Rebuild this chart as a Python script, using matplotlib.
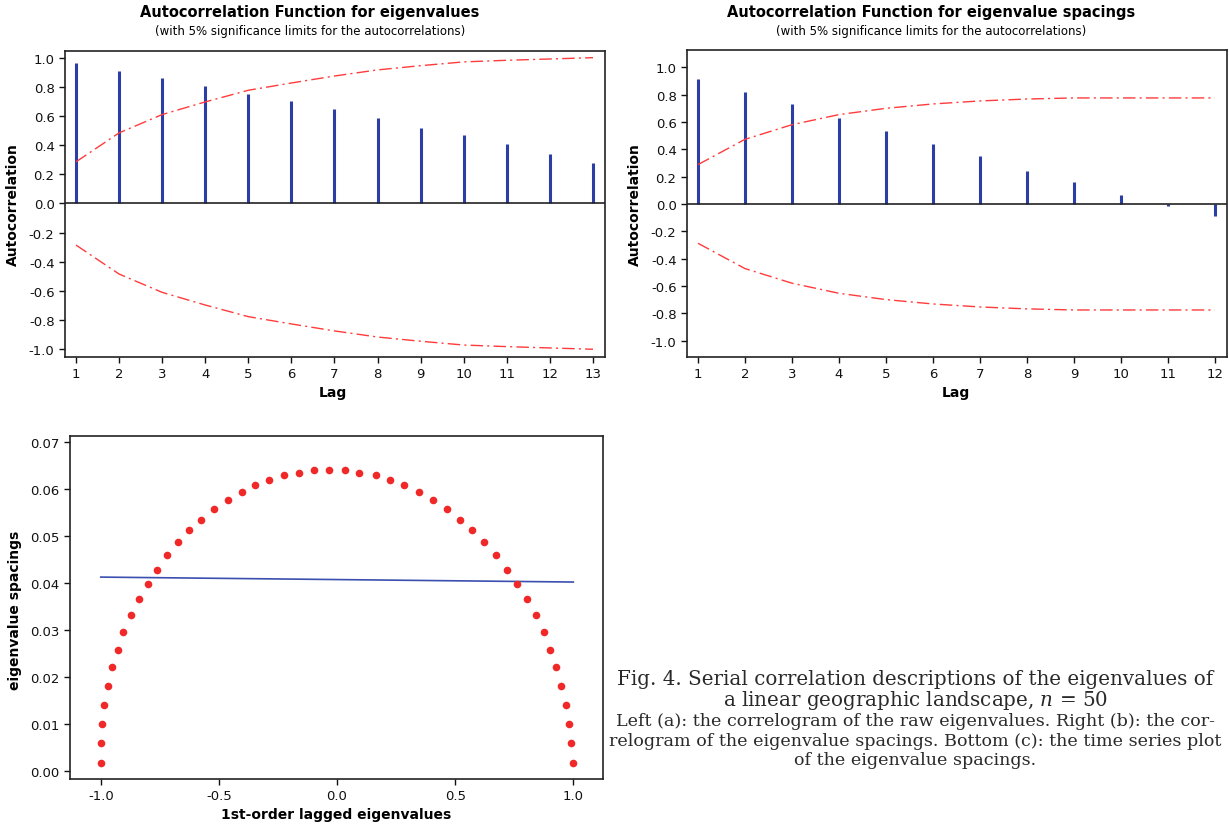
import matplotlib
matplotlib.use("Agg")
import matplotlib.pyplot as plt

plt.rcParams['mathtext.fontset'] = 'dejavuserif'

# --- data ---
lags_a = list(range(1, 14))
acf_a = [0.966, 0.911, 0.863, 0.810, 0.755, 0.703, 0.648, 0.584, 0.522, 0.469, 0.407, 0.343, 0.275]
lim_a = [0.286, 0.485, 0.611, 0.698, 0.778, 0.828, 0.876, 0.918, 0.947, 0.973, 0.984, 0.993, 1.002]

lags_b = list(range(1, 13))
acf_b = [0.912, 0.822, 0.729, 0.632, 0.532, 0.441, 0.351, 0.241, 0.161, 0.068, -0.012, -0.088]
lim_b = [0.288, 0.473, 0.580, 0.654, 0.700, 0.732, 0.754, 0.768, 0.776, 0.776, 0.776, 0.776]

lagged_eig = [-1.000, -0.998, -0.995, -0.987, -0.971, -0.952, -0.929, -0.905, -0.871, -0.839,
              -0.802, -0.763, -0.721, -0.675, -0.626, -0.575, -0.519, -0.461, -0.404, -0.348,
              -0.287, -0.225, -0.159, -0.098, -0.034, 0.034, 0.095, 0.163, 0.224, 0.283,
              0.346, 0.407, 0.464, 0.522, 0.573, 0.623, 0.671, 0.720, 0.760, 0.804,
              0.841, 0.874, 0.903, 0.928, 0.950, 0.969, 0.982, 0.992, 1.000]
spacings = [0.0019, 0.0060, 0.0101, 0.0142, 0.0181, 0.0222, 0.0258, 0.0296, 0.0332, 0.0366,
            0.0397, 0.0428, 0.0460, 0.0486, 0.0513, 0.0534, 0.0556, 0.0576, 0.0593, 0.0607,
            0.0619, 0.0629, 0.0634, 0.0639, 0.0639, 0.0639, 0.0634, 0.0629, 0.0619, 0.0607,
            0.0593, 0.0576, 0.0556, 0.0534, 0.0513, 0.0486, 0.0460, 0.0428, 0.0397, 0.0366,
            0.0332, 0.0296, 0.0258, 0.0222, 0.0181, 0.0142, 0.0101, 0.0060, 0.0019]
fit_x = [-1.0, 1.0]
fit_y = [0.04125, 0.0402]

BLUE = '#2b3ea6'
RED = '#ff3b3b'
dashdot = (0, (9, 3, 1.5, 3))

fig = plt.figure(figsize=(12.29, 8.29), dpi=100)
fig.patch.set_facecolor('white')


def style(ax):
    for s in ax.spines.values():
        s.set_linewidth(1.2)
        s.set_color('#222222')
    ax.tick_params(direction='out', length=4, width=1, labelsize=9.5, colors='#111111')


def acf_panel(rect, lags, acf, lim, ylim, xlim):
    ax = fig.add_axes(rect)
    ax.vlines(lags, 0, acf, color=BLUE, lw=2.2)
    ax.axhline(0, color='#222222', lw=1.2)
    ax.plot(lags, lim, color=RED, lw=1.0, ls=dashdot)
    ax.plot(lags, [-v for v in lim], color=RED, lw=1.0, ls=dashdot)
    ax.set_xlim(*xlim)
    ax.set_ylim(*ylim)
    ax.set_xticks(lags)
    yt = [1.0, 0.8, 0.6, 0.4, 0.2, 0.0, -0.2, -0.4, -0.6, -0.8, -1.0]
    ax.set_yticks(yt)
    ax.set_yticklabels(['%.1f' % v for v in yt])
    style(ax)
    return ax


ax1 = acf_panel([0.0529, 0.5682, 0.4394, 0.3691], lags_a, acf_a, lim_a,
                (-1.055, 1.048), (0.745, 13.28))
ax2 = acf_panel([0.559, 0.5682, 0.4394, 0.3703], lags_b, acf_b, lim_b,
                (-1.12, 1.127), (0.766, 12.26))

W, H = 1229, 829
for cx, t in [(310, 'Autocorrelation Function for eigenvalues'),
              (931, 'Autocorrelation Function for eigenvalue spacings')]:
    fig.text(cx / W, 1 - 12 / H, t, ha='center', va='center', fontsize=10.5, fontweight='bold')
    fig.text(cx / W, 1 - 31 / H, '(with 5% significance limits for the autocorrelations)',
             ha='center', va='center', fontsize=8.5)

fig.text(13 / W, 1 - 205 / H, 'Autocorrelation', rotation=90, ha='center', va='center',
         fontsize=10, fontweight='bold')
fig.text(635 / W, 1 - 205 / H, 'Autocorrelation', rotation=90, ha='center', va='center',
         fontsize=10, fontweight='bold')
fig.text(333 / W, 1 - 393 / H, 'Lag', ha='center', va='center', fontsize=10, fontweight='bold')
fig.text(956 / W, 1 - 393 / H, 'Lag', ha='center', va='center', fontsize=10, fontweight='bold')

# bottom panel
ax3 = fig.add_axes([0.057, 0.0591, 0.4337, 0.4138])
ax3.scatter(lagged_eig, spacings, s=30, color='#f02828', marker='o', zorder=3, linewidths=0)
ax3.plot(fit_x, fit_y, color='#3a4fb0', lw=1.2)
ax3.set_xlim(-1.13, 1.126)
ax3.set_ylim(-0.0016, 0.0712)
ax3.set_xticks([-1.0, -0.5, 0.0, 0.5, 1.0])
ax3.set_xticklabels(['-1.0', '-0.5', '0.0', '0.5', '1.0'])
ax3.set_yticks([0.0, 0.01, 0.02, 0.03, 0.04, 0.05, 0.06, 0.07])
ax3.set_yticklabels(['%.2f' % v for v in [0.0, 0.01, 0.02, 0.03, 0.04, 0.05, 0.06, 0.07]])
style(ax3)
fig.text(15 / W, 1 - 610 / H, 'eigenvalue spacings', rotation=90, ha='center', va='center',
         fontsize=10, fontweight='bold')
fig.text(336 / W, 1 - 815 / H, '1st-order lagged eigenvalues', ha='center', va='center',
         fontsize=10, fontweight='bold')

# caption
serif = 'DejaVu Serif'
cx = 915 / W
fig.text(cx, 1 - 680 / H, 'Fig. 4. Serial correlation descriptions of the eigenvalues of',
         ha='center', va='center', fontsize=14.3, family=serif, color='#2a2a2a')
fig.text(cx, 1 - 701 / H, 'a linear geographic landscape, $n$ = 50',
         ha='center', va='center', fontsize=14.3, family=serif, color='#2a2a2a')
for y, t in [(722, 'Left (a): the correlogram of the raw eigenvalues. Right (b): the cor-'),
             (742, 'relogram of the eigenvalue spacings. Bottom (c): the time series plot'),
             (761, 'of the eigenvalue spacings.')]:
    fig.text(cx, 1 - y / H, t, ha='center', va='center', fontsize=12.6, family=serif,
             color='#2a2a2a')

fig.savefig('out.png', dpi=100)
